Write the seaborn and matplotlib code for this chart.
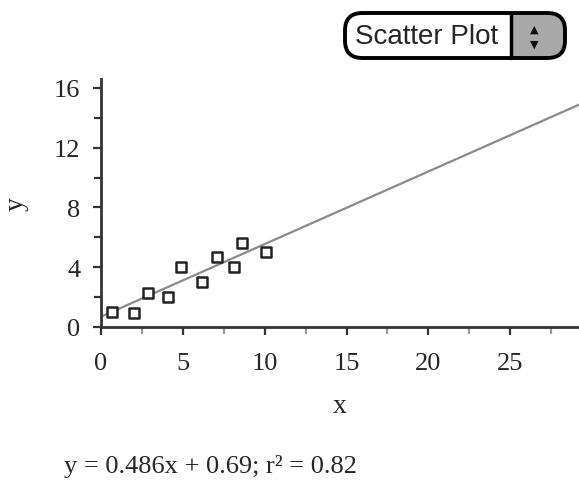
import numpy as np
import pandas as pd
import matplotlib
matplotlib.use("Agg")
import matplotlib.pyplot as plt
from matplotlib.patches import FancyBboxPatch, Rectangle
import seaborn as sns

# Data
x_vals = [0.7, 2.0, 2.9, 4.1, 4.9, 6.2, 7.1, 8.1, 8.6, 10.1]
y_vals = [1.0, 0.95, 2.3, 2.0, 4.0, 3.0, 4.7, 4.0, 5.6, 5.0]
slope = 0.486
intercept = 0.69
r2 = 0.82
x_ticks = [0, 5, 10, 15, 20, 25]
x_minor = [2.5, 7.5, 12.5, 17.5, 22.5, 27.5]
y_ticks = [0, 4, 8, 12, 16]
y_minor = [2, 6, 10, 14]
dropdown_label = "Scatter Plot"

sns.set_style("ticks")
plt.rcParams['font.family'] = ['Liberation Serif', 'DejaVu Serif']

W, H = 579, 481
fig = plt.figure(figsize=(5.79, 4.81), dpi=100)
ax = fig.add_axes([101/W, 1 - 328/H, 1 - 101/W, (328 - 80)/H])

df = pd.DataFrame({"x": x_vals, "y": y_vals})
xmax = 29.2
line_x = [0, xmax]
line_df = pd.DataFrame({"x": line_x, "y": [slope * v + intercept for v in line_x]})
sns.lineplot(data=line_df, x="x", y="y", ax=ax, color="#8a8a8a", linewidth=1.6, zorder=2)
sns.scatterplot(data=df, x="x", y="y", ax=ax, marker="s", s=50, facecolor="white",
                edgecolor="#222222", linewidth=1.8, zorder=3)

ax.set_xlim(0, xmax)
ax.set_ylim(0, 16.6)
ax.set_xticks(x_ticks)
ax.set_xticks(x_minor, minor=True)
ax.set_yticks(y_ticks)
ax.set_yticks(y_minor, minor=True)
ax.tick_params(axis='x', which='major', labelsize=19, length=6, width=1.6, color="#333333", pad=12)
ax.tick_params(axis='y', which='major', labelsize=19, length=6, width=1.6, color="#333333", pad=9)
ax.tick_params(axis='y', which='minor', length=5, width=1.6, color="#333333")
ax.tick_params(axis='x', which='minor', length=5, width=1.6, color="#999999")
for s in ["left", "bottom"]:
    ax.spines[s].set_linewidth(2)
    ax.spines[s].set_color("#333333")
sns.despine(ax=ax)
ax.set_xlabel("x", fontsize=20, labelpad=14)
ax.set_ylabel("y", fontsize=20, labelpad=18, rotation=90)

fig.text(211/W, 1 - 467/H, f"y = {slope}x + {intercept}; r\u00b2 = {r2}",
         fontsize=19, ha="center", va="center")

# dropdown widget
x0, x1, xs = 345/W, 565/W, 511/W
y0, y1 = 1 - 59/H, 1 - 14/H
style = "round,pad=0,rounding_size=0.03"
asp = W / H
fig.patches.append(FancyBboxPatch((x0, y0), x1 - x0, y1 - y0, boxstyle=style, transform=fig.transFigure,
                                  facecolor="#a9a9a9", edgecolor="none", mutation_aspect=asp, zorder=1))
fig.patches.append(FancyBboxPatch((x0, y0), (530/W) - x0, y1 - y0, boxstyle=style, transform=fig.transFigure,
                                  facecolor="white", edgecolor="none", mutation_aspect=asp, zorder=2))
fig.patches.append(Rectangle((xs, y0), 30/W, y1 - y0, transform=fig.transFigure,
                             facecolor="#a9a9a9", edgecolor="none", zorder=3))
fig.patches.append(FancyBboxPatch((x0, y0), x1 - x0, y1 - y0, boxstyle=style, transform=fig.transFigure,
                                  facecolor="none", edgecolor="black", linewidth=2.8, mutation_aspect=asp, zorder=4))
fig.add_artist(plt.Line2D([xs, xs], [y0, y1], transform=fig.transFigure, color="black", linewidth=2.5, zorder=5))
fig.text(427/W, 1 - 37/H, dropdown_label, fontsize=20, family="Liberation Sans",
         ha="center", va="center", zorder=6)
fig.text(534/W, 1 - 30/H, "\u25b2", fontsize=8, family="DejaVu Sans", ha="center", va="center",
         color="#111111", zorder=6)
fig.text(534/W, 1 - 45/H, "\u25bc", fontsize=8, family="DejaVu Sans", ha="center", va="center",
         color="#111111", zorder=6)

fig.savefig("out.png", dpi=100)
